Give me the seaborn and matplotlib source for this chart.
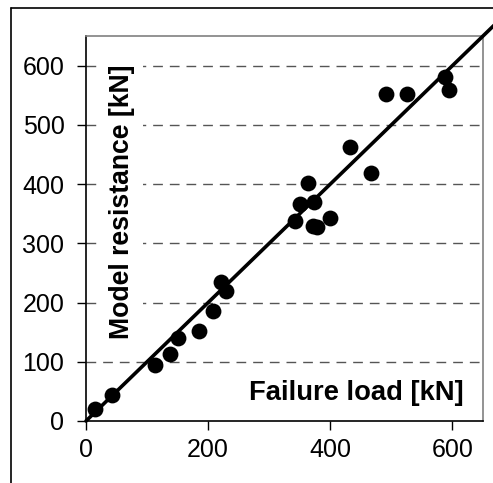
import numpy as np
import pandas as pd
import seaborn as sns
import matplotlib.pyplot as plt
from matplotlib.lines import Line2D

# Failure load vs model resistance
failure_load = [15, 43, 113, 137, 151, 185, 208, 221, 230, 342, 350, 363,
                373, 371, 379, 400, 433, 467, 492, 525, 588, 595]
model_resistance = [20, 44, 95, 113, 140, 152, 185, 235, 220, 338, 366, 401,
                    369, 329, 327, 342, 462, 418, 552, 552, 581, 559]

# 1:1 reference line
line_x = [0, 690]
line_y = [0, 690]

x_ticks = [0, 200, 400, 600]
y_ticks = [0, 100, 200, 300, 400, 500, 600]

df = pd.DataFrame({"Failure": failure_load, "Model": model_resistance})

sns.set_style("white")
plt.rcParams["font.family"] = ["Liberation Sans", "DejaVu Sans"]
plt.rcParams["text.color"] = "black"

fig = plt.figure(figsize=(4.93, 4.83), dpi=100)
ax = fig.add_axes([86 / 493, 1 - 421 / 483, 397 / 493, 385 / 483])

# dashed horizontal gridlines
for yv in y_ticks[1:]:
    ax.axhline(yv, color="#555555", lw=1.0, dashes=(7, 5), zorder=1)

sns.lineplot(x=line_x, y=line_y, color="black", lw=2.6, ax=ax, zorder=3,
             clip_on=False)
sns.scatterplot(data=df, x="Failure", y="Model", color="black", s=130,
                edgecolor="black", linewidth=0, ax=ax, zorder=4)

ax.set_xlim(0, 650)
ax.set_ylim(0, 650)
ax.set_xticks(x_ticks)
ax.set_yticks(y_ticks)
ax.tick_params(axis="both", direction="out", length=6.5, width=1,
               color="black", labelsize=18, pad=9, labelcolor="black")
ax.tick_params(axis="x", bottom=True, pad=6)
ax.tick_params(axis="y", left=True)
ax.set_xlabel("")
ax.set_ylabel("")

for side in ["left", "bottom"]:
    ax.spines[side].set_color("black")
    ax.spines[side].set_linewidth(1.2)
for side in ["top", "right"]:
    ax.spines[side].set_color("#808080")
    ax.spines[side].set_linewidth(1.2)

# axis titles placed inside the plot
ax.text(0.952, 0.0545, "Failure load [kN]", transform=ax.transAxes,
        ha="right", va="baseline", fontsize=19.7, fontweight="bold",
        color="black", zorder=5)
ax.text(0.0907, 0.925, "Model resistance [kN]", transform=ax.transAxes,
        rotation=90, ha="center", va="top", fontsize=19.2, fontweight="bold",
        color="black", zorder=2,
        bbox=dict(boxstyle="square,pad=0.3", fc="white", ec="none"))

# outer frame of the figure
fig.add_artist(Line2D([11 / 493, 11 / 493], [0, 1 - 8 / 483],
                      transform=fig.transFigure, color="black", lw=1.2))
fig.add_artist(Line2D([11 / 493, 1], [1 - 8 / 483, 1 - 8 / 483],
                      transform=fig.transFigure, color="black", lw=1.2))

fig.savefig("out.png", dpi=100)
